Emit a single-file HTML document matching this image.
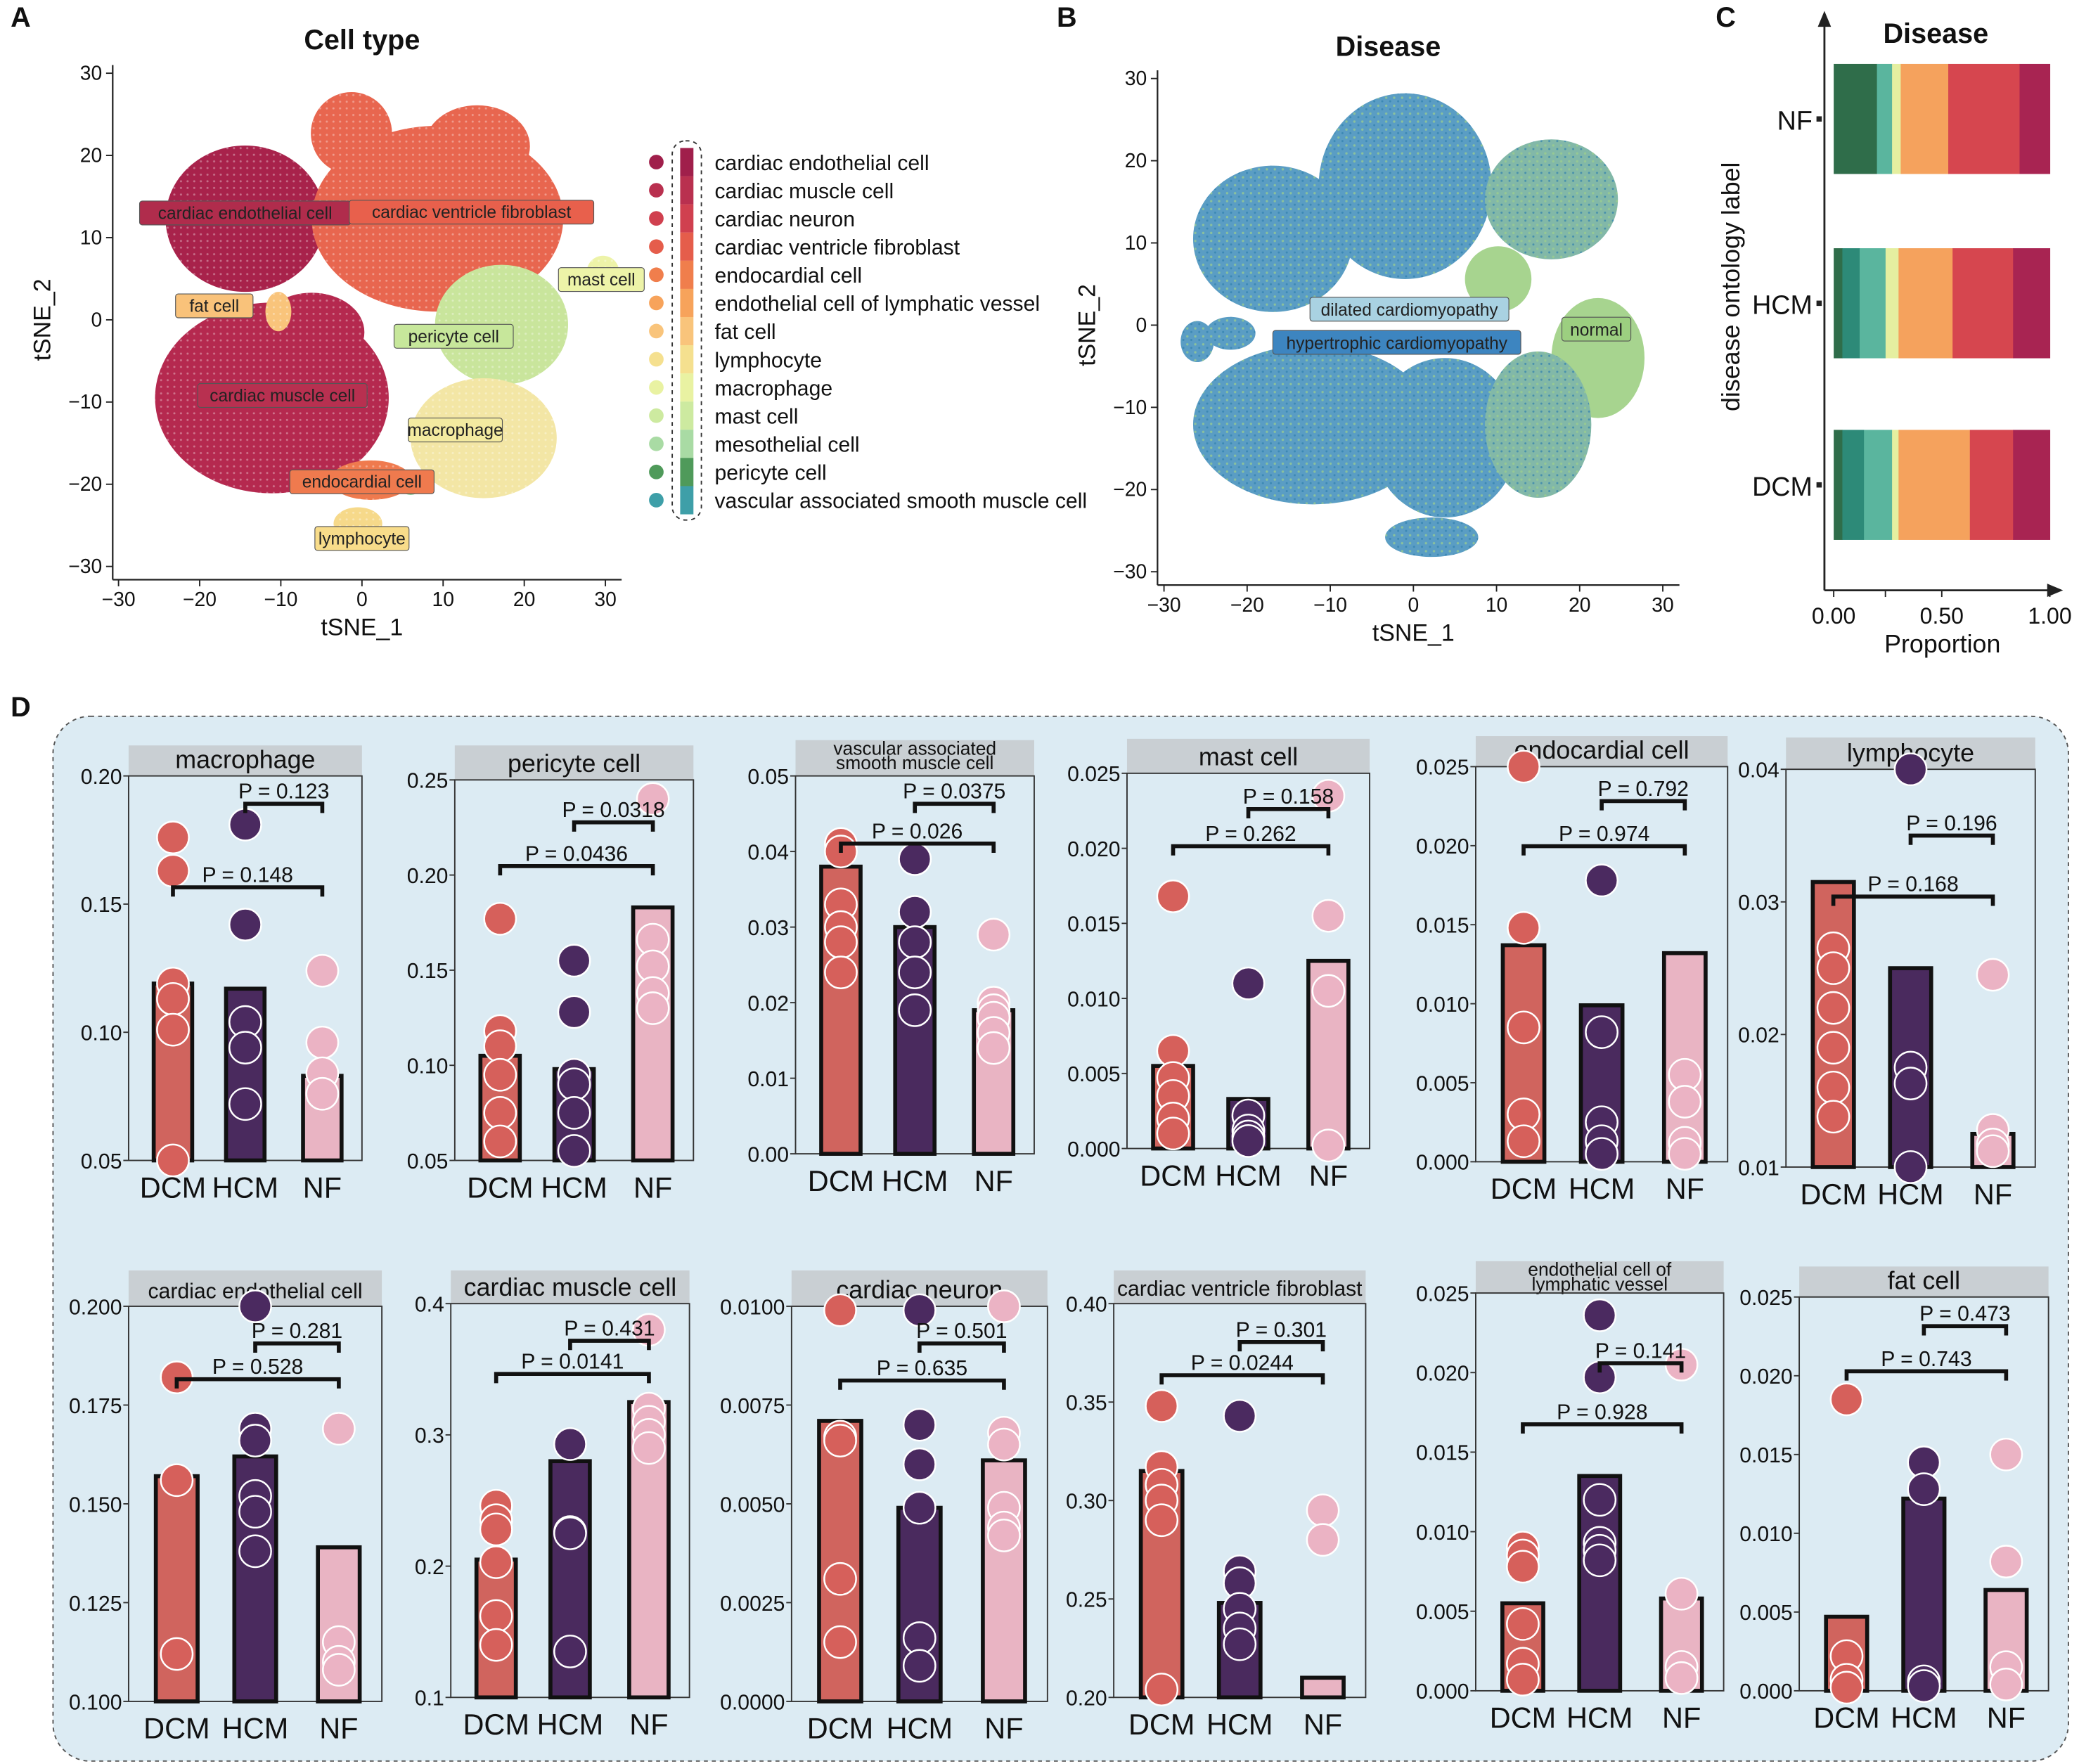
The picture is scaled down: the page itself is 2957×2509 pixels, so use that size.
<!DOCTYPE html>
<html><head><meta charset="utf-8">
<style>
html,body{margin:0;padding:0;background:#fff;}
svg{display:block;font-family:"Liberation Sans",Arial,sans-serif;}
</style></head>
<body>
<svg id="fig" xmlns="http://www.w3.org/2000/svg" width="2957" height="2509" viewBox="0 0 1568 1330">
<defs>
<pattern id="speck" width="6" height="6" patternUnits="userSpaceOnUse">
<circle cx="1.5" cy="1.5" r="0.9" fill="#9fd08c"/><circle cx="4.5" cy="4.2" r="0.8" fill="#2f7fae"/>
</pattern>
<pattern id="speckA" width="5" height="5" patternUnits="userSpaceOnUse">
<circle cx="1.5" cy="1.5" r="0.8" fill="#ffffff" opacity="0.35"/>
</pattern>
</defs>
</svg>
<script>
// ---------- Panel A data ----------
const cellTypes=["cardiac endothelial cell","cardiac muscle cell","cardiac neuron","cardiac ventricle fibroblast","endocardial cell","endothelial cell of lymphatic vessel","fat cell","lymphocyte","macrophage","mast cell","mesothelial cell","pericyte cell","vascular associated smooth muscle cell"];
const cellColors=["#a01f4b","#b9304f","#d0404f","#e55d4b","#f07e4c","#f7a35b","#f9c47b","#f5e08f","#e9f2a2","#cdeaa0","#a9dba4","#4f9a5a","#3e9fa8"];
const clusterColors=["#a8224b","#e8664f","#e8664f","#e8664f","#c9e59c","#b5294f","#b5294f","#f3e6a5","#ef7a4e","#f6d98a","#f9c47b","#edf3a8","#8fcf9a"];
const clusterType=[0,3,3,3,11,1,1,8,4,7,6,9,12];
const clusterX=[-14.4,9.3,-1.3,14.2,17.2,-11.1,-6.2,15,1.1,-0.5,-10.3,29.7,6];
const clusterY=[12.3,12.3,22.7,21.1,-0.6,-9.5,-1.5,-14.4,-19.5,-24.8,1,5.8,-19.8];
const clusterRX=[9.8,15.5,5,6.5,8.2,14.4,6.5,9,5,3,1.6,2,1.5];
const clusterRY=[8.9,11.3,5,5,7.3,11.6,4.8,7.3,2.4,2,2.4,2,1.5];
const labelText=["cardiac endothelial cell","cardiac ventricle fibroblast","mast cell","fat cell","pericyte cell","cardiac muscle cell","macrophage","endocardial cell","lymphocyte"];
const labelX=[-14.4,13.5,29.5,-18.2,11.3,-9.8,11.5,0,0];
const labelY=[13,13.1,4.9,1.7,-2,-9.2,-13.4,-19.7,-26.6];
const labelFill=["#b02c4c","#e8604c","#edf3a8","#f9c27a","#c7e79b","#b83050","#f3eaa0","#ef7a4e","#f8dc8a"];
const tsneTicks=[-30,-20,-10,0,10,20,30];
// ---------- Panel B data ----------
const diseaseX=[-16.9,-1,16.6,22.2,-12.1,3.8,15,2.2,10.2,-26,-22];
const diseaseY=[10.5,16.9,15.3,-4,-12.1,-13.7,-12.1,-25.8,5.6,-2,-1];
const diseaseRX=[9.6,10.4,8,5.6,14.4,8.8,6.4,5.6,4,2,3];
const diseaseRY=[8.9,11.3,7.3,7.3,9.7,9.7,8.9,2.4,4,2.5,2];
const diseaseGroup=[0,0,2,1,0,0,2,0,1,0,0];
// ---------- Panel C data ----------
const propGroups=["NF","HCM","DCM"];
const propColors=["#2f6d4a","#2d8a78","#5ab59e","#e5efa0","#f5a25d","#d6464f","#a82452"];
const propNF=[0.20,0,0.07,0.04,0.22,0.33,0.14];
const propHCM=[0.04,0.08,0.12,0.06,0.25,0.28,0.17];
const propDCM=[0.04,0.10,0.13,0.03,0.33,0.20,0.17];
const propTicks=[0,0.5,1];
const propTickLabels=["0.00","0.50","1.00"];
// ---------- Panel D data ----------
const dTitles=[["macrophage"],["pericyte cell"],["vascular associated","smooth muscle cell"],["mast cell"],["endocardial cell"],["lymphocyte"],["cardiac endothelial cell"],["cardiac muscle cell"],["cardiac neuron"],["cardiac ventricle fibroblast"],["endothelial cell of","lymphatic vessel"],["fat cell"]];
const dMin=[0.05,0.05,0,0,0,0.01,0.1,0.1,0,0.2,0,0];
const dMax=[0.20,0.25,0.05,0.025,0.025,0.04,0.2,0.4,0.01,0.4,0.025,0.025];
const dTicks=[[0.05,0.10,0.15,0.20],[0.05,0.10,0.15,0.20,0.25],[0,0.01,0.02,0.03,0.04,0.05],[0,0.005,0.01,0.015,0.02,0.025],[0,0.005,0.01,0.015,0.02,0.025],[0.01,0.02,0.03,0.04],[0.1,0.125,0.15,0.175,0.2],[0.1,0.2,0.3,0.4],[0,0.0025,0.005,0.0075,0.01],[0.2,0.25,0.3,0.35,0.4],[0,0.005,0.01,0.015,0.02,0.025],[0,0.005,0.01,0.015,0.02,0.025]];
const dTickLabels=[["0.05","0.10","0.15","0.20"],["0.05","0.10","0.15","0.20","0.25"],["0.00","0.01","0.02","0.03","0.04","0.05"],["0.000","0.005","0.010","0.015","0.020","0.025"],["0.000","0.005","0.010","0.015","0.020","0.025"],["0.01","0.02","0.03","0.04"],["0.100","0.125","0.150","0.175","0.200"],["0.1","0.2","0.3","0.4"],["0.0000","0.0025","0.0050","0.0075","0.0100"],["0.20","0.25","0.30","0.35","0.40"],["0.000","0.005","0.010","0.015","0.020","0.025"],["0.000","0.005","0.010","0.015","0.020","0.025"]];
const barDCM=[0.119,0.105,0.038,0.0055,0.0137,0.0315,0.157,0.205,0.0071,0.315,0.0055,0.0047];
const barHCM=[0.117,0.098,0.030,0.0033,0.0099,0.025,0.162,0.28,0.0049,0.248,0.0135,0.0122];
const barNF=[0.083,0.183,0.019,0.0125,0.0132,0.0125,0.139,0.325,0.0061,0.21,0.0058,0.0064];
const ptsDCM=[[0.176,0.163,0.119,0.113,0.101,0.05],[0.177,0.118,0.11,0.095,0.075,0.06],[0.041,0.040,0.033,0.030,0.028,0.024],[0.0168,0.0065,0.0047,0.0035,0.002,0.001],[0.025,0.0148,0.0085,0.003,0.0013],[0.0265,0.025,0.022,0.019,0.016,0.0138],[0.182,0.182,0.156,0.112],[0.246,0.235,0.228,0.203,0.162,0.14],[0.0099,0.0067,0.0066,0.0031,0.0015],[0.348,0.317,0.308,0.30,0.29,0.204],[0.009,0.0085,0.0078,0.0042,0.0017,0.0007],[0.0185,0.0022,0.0007,0.0002]];
const ptsHCM=[[0.181,0.142,0.104,0.094,0.072],[0.155,0.128,0.095,0.09,0.075,0.055],[0.039,0.039,0.032,0.028,0.024,0.019],[0.011,0.0022,0.0012,0.0008,0.0005],[0.0178,0.0082,0.0025,0.0013,0.0005],[0.0437,0.0175,0.0163,0.0098],[0.201,0.169,0.166,0.152,0.148,0.138],[0.293,0.226,0.225,0.135],[0.0099,0.0070,0.0060,0.0049,0.0016,0.0009],[0.343,0.264,0.258,0.245,0.235,0.227],[0.0236,0.0197,0.012,0.0093,0.0088,0.0082],[0.0145,0.0128,0.0006,0.0003]];
const ptsNF=[[0.124,0.096,0.084,0.076],[0.24,0.166,0.152,0.138,0.13],[0.029,0.020,0.019,0.018,0.016,0.014],[0.0235,0.0155,0.0105,0.0002],[0.0055,0.0038,0.0012,0.0005],[0.0245,0.0128,0.0117,0.0112],[0.169,0.115,0.11,0.108],[0.38,0.32,0.31,0.30,0.29],[0.0100,0.0068,0.0065,0.0049,0.0044,0.0042],[0.295,0.28],[0.0205,0.0061,0.0015,0.0008],[0.015,0.0082,0.0015,0.0004]];
const pHN=["0.123","0.0318","0.0375","0.158","0.792","0.196","0.281","0.431","0.501","0.301","0.141","0.473"];
const pDN=["0.148","0.0436","0.026","0.262","0.974","0.168","0.528","0.0141","0.635","0.0244","0.928","0.743"];
const groups=["DCM","HCM","NF"];
// layout (pixels, not data)
const fx0=[97,343,600,850,1113,1347,97,340,597,840,1113,1357];
const fx1=[273,523,780,1033,1303,1535,288,520,790,1030,1300,1545];
const fy0=[585,588,585,583,578,580,985,983,985,983,975,978];
const fy1=[875,875,870,866,876,880,1283,1280,1283,1280,1275,1275];
const hy=[562,562,558,557,555,556,958,958,958,958,951,955];
const br1=[606,620,606,610,604,630,1013,1011,1013,1012,1028,1000];
const br2=[669,653,636,638,638,676,1040,1036,1041,1037,1074,1034];

const svg=document.getElementById('fig');
const NS="http://www.w3.org/2000/svg";
function mk(tag,attrs,parent){const e=document.createElementNS(NS,tag);for(const k in attrs)e.setAttribute(k,attrs[k]);(parent||svg).appendChild(e);return e;}
function txt(s,x,y,size,attrs,parent){const t=mk('text',Object.assign({x:x,y:y,'font-size':size,fill:'#111'},attrs||{}),parent);t.textContent=s;return t;}

[["A",8,20],["B",797,20],["C",1294,20],["D",8,540]].forEach(l=>{
  const t=txt(l[0],l[1],l[2],21,{'font-weight':'bold'});
  
  
});

// ===== Panel A =====
const gA=mk('g',{});


const axA={x:v=>273+6.12*v,y:v=>241-6.2*v};
for(let i=0;i<clusterX.length;i++){
  const e=mk('ellipse',{cx:axA.x(clusterX[i]),cy:axA.y(clusterY[i]),rx:clusterRX[i]*6.12,ry:clusterRY[i]*6.2,fill:clusterColors[i]},gA);
  
  
  mk('ellipse',{cx:axA.x(clusterX[i]),cy:axA.y(clusterY[i]),rx:clusterRX[i]*6.12,ry:clusterRY[i]*6.2,fill:'url(#speckA)'},gA);
}
for(let i=0;i<labelText.length;i++){
  const w=labelText[i].length*6.3+8,cx=axA.x(labelX[i]),cy=axA.y(labelY[i]);
  const r=mk('rect',{x:cx-w/2,y:cy-9,width:w,height:18,rx:2,fill:labelFill[i],stroke:'#555','stroke-width':0.6},gA);
  
  
  const t=txt(labelText[i],cx,cy+4.5,13,{'text-anchor':'middle',fill:'#222'},gA);
  
  
}
function tsneAxes(g,ax,x0,yAxisX,xAxisY,title,titleX,titleY){
  mk('line',{x1:yAxisX,y1:xAxisY,x2:ax.x(32),y2:xAxisY,stroke:'#222','stroke-width':1.2},g);
  mk('line',{x1:yAxisX,y1:xAxisY,x2:yAxisX,y2:ax.y(31),stroke:'#222','stroke-width':1.2},g);
  tsneTicks.forEach(v=>{
    mk('line',{x1:ax.x(v),y1:xAxisY,x2:ax.x(v),y2:xAxisY+5,stroke:'#222'},g);
    const t=txt(v<0?'\u2212'+(-v):String(v),ax.x(v),xAxisY+20,15,{'text-anchor':'middle'},g);
    
    
    mk('line',{x1:yAxisX-5,y1:ax.y(v),x2:yAxisX,y2:ax.y(v),stroke:'#222'},g);
    const t2=txt(v<0?'\u2212'+(-v):String(v),yAxisX-8,ax.y(v)+5,15,{'text-anchor':'end'},g);
    
    
  });
  const xt=txt('tSNE_1',ax.x(0),xAxisY+42,18,{'text-anchor':'middle'},g);
  
  
  const yt=txt('tSNE_2',0,0,18,{'text-anchor':'middle',transform:`translate(${yAxisX-47},${ax.y(0)}) rotate(-90)`},g);
  
  
  const tt=txt(title,titleX,titleY,21,{'text-anchor':'middle','font-weight':'bold'},g);
  
  
}
tsneAxes(gA,axA,0,85,437,'Cell type',273,37);
for(let i=0;i<cellTypes.length;i++){
  const y=122+i*21.25;
  const c=mk('circle',{cx:495,cy:y,r:5.5,fill:cellColors[i]},gA);
  
  
  mk('rect',{x:513,y:y-10.6,width:10,height:21.3,fill:cellColors[i]},gA);
  const t=txt(cellTypes[i],539,y+6,16,{},gA);
  
  
}
mk('rect',{x:507,y:106,width:22,height:286,rx:10,fill:'none',stroke:'#333','stroke-dasharray':'3,3'},gA);

// ===== Panel B =====
const gB=mk('g',{});


const axB={x:v=>1066+6.27*v,y:v=>245-6.2*v};
const dCols=["#5a9dc4","#a7d48f","#82b8a8"];
for(let i=0;i<diseaseX.length;i++){
  const e=mk('ellipse',{cx:axB.x(diseaseX[i]),cy:axB.y(diseaseY[i]),rx:diseaseRX[i]*6.27,ry:diseaseRY[i]*6.2,fill:dCols[diseaseGroup[i]]},gB);
  
  
  if(diseaseGroup[i]!==1) mk('ellipse',{cx:axB.x(diseaseX[i]),cy:axB.y(diseaseY[i]),rx:diseaseRX[i]*6.27,ry:diseaseRY[i]*6.2,fill:'url(#speck)',opacity:0.7},gB);
}
[["dilated cardiomyopathy",988,224,150,"#a9d2e2"],["hypertrophic cardiomyopathy",960,249,187,"#3d85c0"],["normal",1178,239,52,"#9ccf80"]].forEach(l=>{
  const r=mk('rect',{x:l[1],y:l[2],width:l[3],height:18,rx:2,fill:l[4],stroke:'#555','stroke-width':0.6},gB);
  
  
  const t=txt(l[0],l[1]+l[3]/2,l[2]+14,13,{'text-anchor':'middle',fill:'#222'},gB);
  
  
});
tsneAxes(gB,axB,0,873,441,'Disease',1047,42);

// ===== Panel C =====
const gC=mk('g',{});


const cx0=1383,cw=163;
const pxC=v=>cx0+cw*v;
const barTops=[48,187,324],barH=83;
const propData=[propNF,propHCM,propDCM];
for(let g=0;g<3;g++){
  let acc=0;
  propData[g].forEach((v,k)=>{
    if(v<=0)return;
    const r=mk('rect',{x:pxC(acc),y:barTops[g],width:cw*v+0.3,height:barH,fill:propColors[k]},gC);
    
    
    acc+=v;
  });
  const t=txt(propGroups[g],1367,barTops[g]+barH/2+8,20,{'text-anchor':'end'},gC);
  
  
  mk('rect',{x:1370,y:barTops[g]+barH/2-2,width:4,height:4,fill:'#222'},gC);
}
mk('line',{x1:1376,y1:445,x2:1376,y2:16,stroke:'#222','stroke-width':1.5},gC);
mk('path',{d:'M1371,20 L1376,8 L1381,20 Z',fill:'#222'},gC);
mk('line',{x1:1376,y1:445,x2:1548,y2:445,stroke:'#222','stroke-width':1.5},gC);
mk('path',{d:'M1544,440 L1556,445 L1544,450 Z',fill:'#222'},gC);
propTicks.forEach((v,i)=>{
  mk('line',{x1:pxC(v),y1:445,x2:pxC(v),y2:450,stroke:'#222'},gC);
  const t=txt(propTickLabels[i],pxC(v),470,17,{'text-anchor':'middle'},gC);
  
  
});
mk('line',{x1:1422,y1:445,x2:1422,y2:450,stroke:'#222'},gC);
let t;
t=txt('Proportion',1465,492,19,{'text-anchor':'middle'},gC);


t=txt('disease ontology label',0,0,19,{'text-anchor':'middle',transform:'translate(1312,216) rotate(-90)'},gC);


t=txt('Disease',1460,32,21,{'text-anchor':'middle','font-weight':'bold'},gC);



// ===== Panel D =====
const gD=mk('g',{});


const bgD=mk('rect',{x:40,y:540,width:1520,height:788,rx:28,fill:'#dcebf3',stroke:'#555','stroke-dasharray':'3,3'},gD);


const gColFill=["#d0645e","#4a2a5e","#e9b4c3"];
const gPtFill=["#d6605b","#4b2a60","#ebb3c4"];
const pos=[0.19,0.5,0.83];
for(let p=0;p<12;p++){
  const g=mk('g',{},gD);
  
  
  const X0=fx0[p],X1=fx1[p],Y0=fy0[p],Y1=fy1[p],W=X1-X0;
  const y=v=>Y1-(v-dMin[p])/(dMax[p]-dMin[p])*(Y1-Y0);
  const xc=i=>X0+W*pos[i];
  const h=mk('rect',{x:X0,y:hy[p],width:W,height:Y0-hy[p],fill:'#c9cfd3'},g);
  
  
  if(dTitles[p].length===1){
    const tt=txt(dTitles[p][0],(X0+X1)/2,Y0-6,dTitles[p][0].length>22?16:19,{'text-anchor':'middle'},g);
    
    
  } else {
    dTitles[p].forEach((s,k)=>{
      const tt=txt(s,(X0+X1)/2,hy[p]+11+k*11,14,{'text-anchor':'middle'},g);
      
      
    });
  }
  mk('rect',{x:X0,y:Y0,width:W,height:Y1-Y0,fill:'none',stroke:'#333','stroke-width':1},g);
  dTicks[p].forEach((v,k)=>{
    mk('line',{x1:X0-4,y1:y(v),x2:X0,y2:y(v),stroke:'#333'},g);
    const tl=txt(dTickLabels[p][k],X0-5,y(v)+6,16,{'text-anchor':'end'},g);
    
    
  });
  const bars=[barDCM[p],barHCM[p],barNF[p]];
  const pts=[ptsDCM[p],ptsHCM[p],ptsNF[p]];
  const bw=W*0.165;
  for(let i=0;i<3;i++){
    const b=mk('rect',{x:xc(i)-bw/2,y:y(bars[i]),width:bw,height:Y1-y(bars[i]),fill:gColFill[i],stroke:'#111','stroke-width':3},g);
    
    
  }
  for(let i=0;i<3;i++){
    pts[i].forEach(v=>{
      const c=mk('circle',{cx:xc(i),cy:Math.max(Y0,Math.min(Y1,y(v))),r:12,fill:gPtFill[i],stroke:'#fff','stroke-width':1.3},g);
      
      
    });
    const xl=txt(groups[i],xc(i),Y1+28,22,{'text-anchor':'middle'},g);
    
    
  }
  [[1,2,br1[p],pHN[p]],[0,2,br2[p],pDN[p]]].forEach(bk=>{
    const a=xc(bk[0]),b=xc(bk[1]),yy=bk[2];
    const l=mk('path',{d:`M${a},${yy+7} L${a},${yy} L${b},${yy} L${b},${yy+7}`,fill:'none',stroke:'#111','stroke-width':3},g);
    
    
    const pt=txt('P = '+bk[3],(a+b)/2,yy-4,16,{'text-anchor':'middle'},g);
    
    
  });
}
</script>
</body></html>
